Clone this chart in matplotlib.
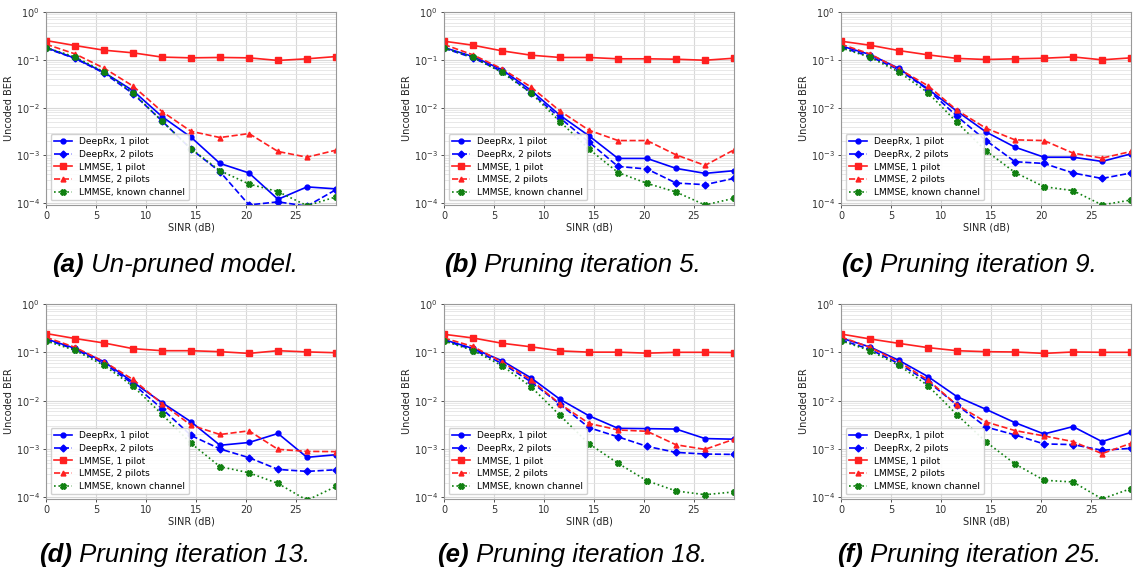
import matplotlib
matplotlib.use("Agg")
import matplotlib.pyplot as plt
import numpy as np

sinr = [0, 2.9, 5.8, 8.7, 11.6, 14.5, 17.4, 20.3, 23.2, 26.1, 29.0]

labels = ["DeepRx, 1 pilot", "DeepRx, 2 pilots", "LMMSE, 1 pilot",
          "LMMSE, 2 pilots", "LMMSE, known channel"]

captions_bold = ["(a)", "(b)", "(c)", "(d)", "(e)", "(f)"]
captions_text = ["Un-pruned model.", "Pruning iteration 5.", "Pruning iteration 9.",
                 "Pruning iteration 13.", "Pruning iteration 18.", "Pruning iteration 25."]

# (a) Un-pruned
a_deeprx1 = [0.181, 0.108, 0.0545, 0.0226, 0.0065, 0.00241, 0.00068, 0.00043, 0.000121, 0.00022, 0.0002]
a_deeprx2 = [0.175, 0.107, 0.0528, 0.0196, 0.00527, 0.00136, 0.000457, 0.0000923, 0.000107, 0.000087, 0.000193]
a_lmmse1 = [0.253, 0.199, 0.159, 0.14, 0.114, 0.110, 0.112, 0.110, 0.097, 0.105, 0.117]
a_lmmse2 = [0.212, 0.133, 0.067, 0.0283, 0.0083, 0.0032, 0.00237, 0.00287, 0.00121, 0.00092, 0.00129]
a_known = [0.18, 0.115, 0.056, 0.0205, 0.0052, 0.00138, 0.00048, 0.000253, 0.000175, 0.000089, 0.000136]

# (b) iteration 5
b_deeprx1 = [0.181, 0.117, 0.062, 0.023, 0.0069, 0.00257, 0.000866, 0.000866, 0.000537, 0.000422, 0.00048]
b_deeprx2 = [0.175, 0.11, 0.057, 0.0205, 0.0061, 0.0019, 0.00059, 0.00052, 0.000265, 0.000245, 0.000332]
b_lmmse1 = [0.245, 0.202, 0.154, 0.125, 0.112, 0.112, 0.105, 0.105, 0.103, 0.098, 0.108]
b_lmmse2 = [0.209, 0.127, 0.065, 0.027, 0.0085, 0.00337, 0.00205, 0.00205, 0.00103, 0.00062, 0.00131]
b_known = [0.178, 0.113, 0.0545, 0.0202, 0.0051, 0.00136, 0.00044, 0.000261, 0.000172, 0.0000923, 0.000127]

# (c) iteration 9
c_deeprx1 = [0.196, 0.129, 0.066, 0.0245, 0.0084, 0.0031, 0.00149, 0.00092, 0.00092, 0.00075, 0.00108]
c_deeprx2 = [0.184, 0.117, 0.062, 0.0237, 0.0066, 0.00205, 0.00074, 0.00068, 0.00043, 0.00033, 0.00043]
c_lmmse1 = [0.245, 0.202, 0.156, 0.127, 0.107, 0.1016, 0.105, 0.108, 0.115, 0.1, 0.11]
c_lmmse2 = [0.212, 0.133, 0.064, 0.0287, 0.0088, 0.00371, 0.00212, 0.00205, 0.00112, 0.00088, 0.00121]
c_known = [0.178, 0.113, 0.0555, 0.0205, 0.0049, 0.00125, 0.00044, 0.000222, 0.000184, 0.0000923, 0.000117]

# (d) iteration 13
d_deeprx1 = [0.19, 0.121, 0.064, 0.0241, 0.0091, 0.00365, 0.00119, 0.00136, 0.00209, 0.00067, 0.00076]
d_deeprx2 = [0.184, 0.115, 0.059, 0.0222, 0.0068, 0.0019, 0.001, 0.00066, 0.000377, 0.000343, 0.000371]
d_lmmse1 = [0.245, 0.193, 0.156, 0.119, 0.108, 0.108, 0.103, 0.095, 0.108, 0.102, 0.098]
d_lmmse2 = [0.205, 0.127, 0.064, 0.0274, 0.00866, 0.00311, 0.00199, 0.00237, 0.00098, 0.00089, 0.00088]
d_known = [0.172, 0.11, 0.0536, 0.0199, 0.0052, 0.00131, 0.00043, 0.000321, 0.000193, 0.0000866, 0.000167]

# (e) iteration 18
e_deeprx1 = [0.183, 0.12, 0.067, 0.0296, 0.01065, 0.00485, 0.00267, 0.00263, 0.00258, 0.00164, 0.00159]
e_deeprx2 = [0.177, 0.114, 0.059, 0.0245, 0.0084, 0.00276, 0.00178, 0.00113, 0.000848, 0.000784, 0.00077]
e_lmmse1 = [0.236, 0.198, 0.154, 0.13, 0.107, 0.1008, 0.1008, 0.096, 0.1, 0.1, 0.099]
e_lmmse2 = [0.198, 0.132, 0.063, 0.0269, 0.0085, 0.00338, 0.00247, 0.00232, 0.00122, 0.00098, 0.00159]
e_known = [0.172, 0.109, 0.053, 0.0194, 0.00493, 0.00128, 0.000505, 0.000219, 0.000135, 0.000113, 0.000129]

# (f) iteration 25
f_deeprx1 = [0.198, 0.129, 0.068, 0.0314, 0.0121, 0.0066, 0.0035, 0.00204, 0.0029, 0.00142, 0.00221]
f_deeprx2 = [0.18, 0.115, 0.058, 0.0247, 0.0081, 0.00285, 0.00195, 0.00127, 0.00123, 0.00094, 0.00103]
f_lmmse1 = [0.239, 0.189, 0.153, 0.125, 0.108, 0.103, 0.1016, 0.095, 0.1016, 0.1, 0.1]
f_lmmse2 = [0.208, 0.127, 0.063, 0.0268, 0.0081, 0.00362, 0.0024, 0.00186, 0.00142, 0.0008, 0.00131]
f_known = [0.174, 0.108, 0.0538, 0.0204, 0.0051, 0.0014, 0.00049, 0.000225, 0.000207, 0.0000925, 0.000151]

panels = [
    (a_deeprx1, a_deeprx2, a_lmmse1, a_lmmse2, a_known),
    (b_deeprx1, b_deeprx2, b_lmmse1, b_lmmse2, b_known),
    (c_deeprx1, c_deeprx2, c_lmmse1, c_lmmse2, c_known),
    (d_deeprx1, d_deeprx2, d_lmmse1, d_lmmse2, d_known),
    (e_deeprx1, e_deeprx2, e_lmmse1, e_lmmse2, e_known),
    (f_deeprx1, f_deeprx2, f_lmmse1, f_lmmse2, f_known),
]

styles = [
    dict(color="#0000ff", linestyle="-", marker="o", markersize=3.5),
    dict(color="#0000ff", linestyle="--", marker="D", markersize=3.5),
    dict(color="#ff2020", linestyle="-", marker="s", markersize=4.8),
    dict(color="#ff2020", linestyle="--", marker="^", markersize=3.5),
    dict(color="#108010", linestyle=":", marker="X", markersize=4),
]

W, H = 1134, 581
fig = plt.figure(figsize=(W / 100, H / 100), dpi=100)

lefts = [46, 444, 841]
rows = [(12, 205), (304, 499)]
cap_x = [175, 572, 969]
cap_y = [265, 555]
cap_size = 18.5

for i, series in enumerate(panels):
    r, c = divmod(i, 3)
    top, bot = rows[r]
    ax = fig.add_axes([lefts[c] / W, (H - bot) / H, 290 / W, (bot - top) / H])
    for vals, lab, st in zip(series, labels, styles):
        ax.plot(sinr, vals, label=lab, linewidth=1.2, **st)
    ax.set_yscale("log")
    ax.set_ylim(9.2e-5, 1)
    ax.set_xlim(0, 29)
    ax.set_xticks([0, 5, 10, 15, 20, 25])
    ax.grid(True, which="major", color="#d8d8d8", linewidth=0.8)
    ax.grid(True, which="minor", axis="y", color="#e4e4e4", linewidth=0.6)
    ax.tick_params(labelsize=7, colors="#333333", length=2.5, width=0.6, pad=2)
    ax.tick_params(which="minor", length=0)
    for sp in ax.spines.values():
        sp.set_color("#999999")
        sp.set_linewidth(0.8)
    ax.set_xlabel("SINR (dB)", fontsize=7, labelpad=1, color="#222222")
    ax.set_ylabel("Uncoded BER", fontsize=7, labelpad=1, color="#222222")
    ax.legend(loc="lower left", fontsize=6.5, handlelength=2.0,
              borderpad=0.4, labelspacing=0.4, framealpha=0.9,
              edgecolor="#cccccc", fancybox=True)
    # caption: bold-italic label followed by italic text
    t1 = fig.text(0, 0, captions_bold[i], fontsize=cap_size, fontweight="bold",
                  fontstyle="italic", family="Liberation Sans", va="center")
    t2 = fig.text(0, 0, " " + captions_text[i], fontsize=cap_size,
                  fontstyle="italic", family="Liberation Sans", va="center")
    fig.canvas.draw()
    rend = fig.canvas.get_renderer()
    w1 = t1.get_window_extent(rend).width
    w2 = t2.get_window_extent(rend).width
    x0 = cap_x[c] - (w1 + w2) / 2
    yy = 1 - cap_y[r] / H
    t1.set_position((x0 / W, yy))
    t2.set_position(((x0 + w1) / W, yy))

fig.savefig("out.png", dpi=100)
